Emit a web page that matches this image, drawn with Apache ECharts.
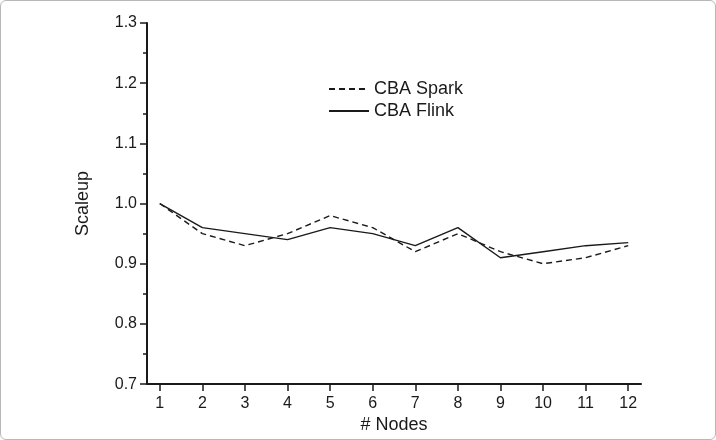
<!DOCTYPE html>
<html>
<head>
<meta charset="utf-8">
<script src="https://cdn.jsdelivr.net/npm/echarts@6/dist/echarts.min.js"></script>
<style>
    html, body { margin: 0; padding: 0; background: #fff; }
    #chart {
        width: 716px;
        height: 440px;
        box-sizing: border-box;
        border: 1px solid #b8b8b8;
        border-radius: 6px;
    }
</style>
</head>
<body>
<div id="chart"></div>
<script>
// node counts on the x axis
const nodes = [1, 2, 3, 4, 5, 6, 7, 8, 9, 10, 11, 12];
// scaleup values
const sparkScaleup = [1.00, 0.95, 0.93, 0.95, 0.98, 0.96, 0.92, 0.95, 0.92, 0.90, 0.91, 0.93];
const flinkScaleup = [1.00, 0.96, 0.95, 0.94, 0.96, 0.95, 0.93, 0.96, 0.91, 0.92, 0.93, 0.935];

const font = 'Liberation Sans, Arial, sans-serif';
const ink = '#1a1a1a';

const chart = echarts.init(document.getElementById('chart'));

const toPairs = (vals) => nodes.map((n, i) => [n, vals[i]]);

const option = {
    animation: false,
    grid: {
        left: 146,
        right: 74,
        top: 22,
        bottom: 52
    },
    legend: {
        orient: 'vertical',
        left: 322,
        top: 74,
        itemWidth: 40,
        itemHeight: 14,
        itemGap: 4,
        itemStyle: { opacity: 0 },
        textStyle: { color: ink, fontSize: 18, fontFamily: font },
        data: ['CBA Spark', 'CBA Flink']
    },
    xAxis: {
        type: 'value',
        min: 0.7,
        max: 12.3,
        name: '# Nodes',
        nameLocation: 'middle',
        nameGap: 30,
        nameTextStyle: { color: ink, fontSize: 18, fontFamily: font },
        axisLine: { lineStyle: { color: ink, width: 2 } },
        axisTick: { customValues: nodes, length: 7, lineStyle: { color: ink, width: 1.5 } },
        axisLabel: { customValues: nodes, color: ink, fontSize: 16, fontFamily: font, margin: 11 },
        splitLine: { show: false }
    },
    yAxis: {
        type: 'value',
        min: 0.7,
        max: 1.3,
        interval: 0.1,
        name: 'Scaleup',
        nameLocation: 'middle',
        nameGap: 55,
        nameTextStyle: { color: ink, fontSize: 18, fontFamily: font },
        axisLine: { show: true, lineStyle: { color: ink, width: 2 } },
        axisTick: { show: true, length: 7, lineStyle: { color: ink, width: 1.5 } },
        minorTick: { show: true, splitNumber: 2, length: 4, lineStyle: { color: ink, width: 1.5 } },
        axisLabel: {
            color: ink,
            fontSize: 16,
            fontFamily: font,
            margin: 10,
            formatter: (v) => v.toFixed(1)
        },
        splitLine: { show: false }
    },
    series: [
        {
            name: 'CBA Spark',
            type: 'line',
            symbol: 'none',
            data: toPairs(sparkScaleup),
            lineStyle: { color: ink, width: 1.4, type: [6, 4] },
            itemStyle: { color: ink }
        },
        {
            name: 'CBA Flink',
            type: 'line',
            symbol: 'none',
            data: toPairs(flinkScaleup),
            lineStyle: { color: ink, width: 1.4 },
            itemStyle: { color: ink }
        }
    ]
};

chart.setOption(option);
</script>
</body>
</html>
